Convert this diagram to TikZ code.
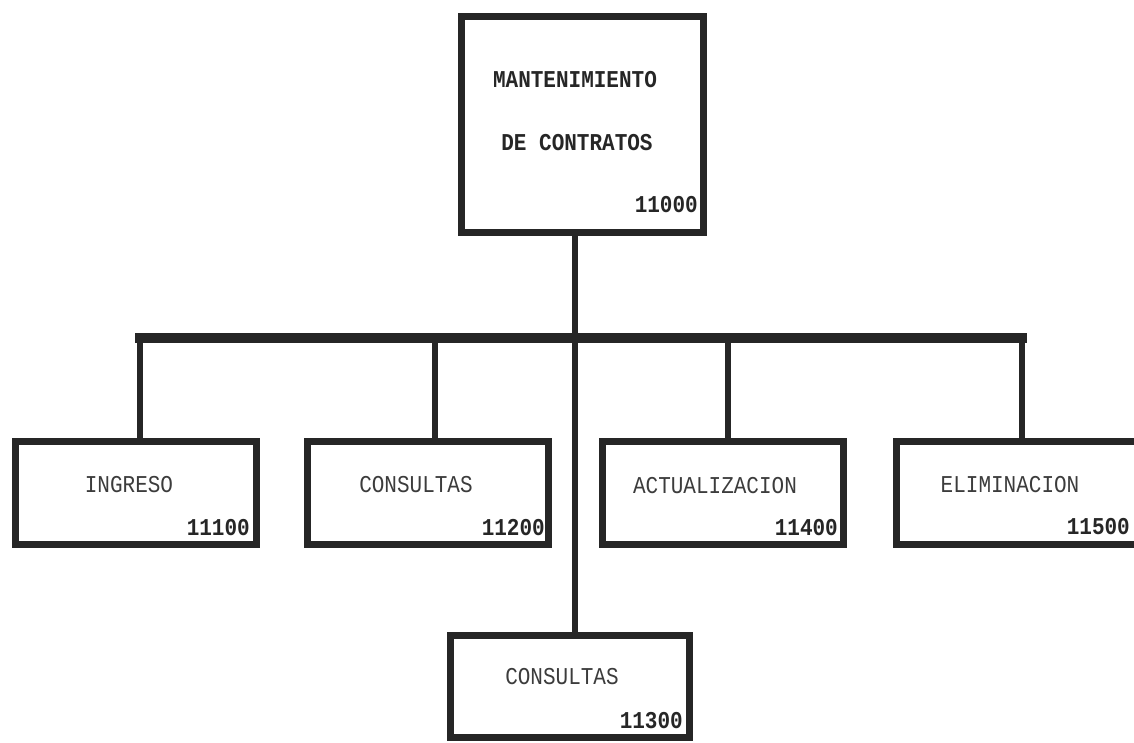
\documentclass[tikz,border=0pt]{standalone}
\usepackage{fontspec}
\setmonofont{Liberation Mono}
\usetikzlibrary{calc}
\definecolor{ink}{HTML}{262626}
\definecolor{txt}{HTML}{3C3C3C}
% printer-style lettering: monospace, a little taller than wide
\newcommand{\tall}[1]{\scalebox{1}[1.15]{#1}}
\tikzset{
  box/.style={draw=ink, line width=7pt, rectangle, inner sep=0pt, fill=white},
  lbl/.style={inner sep=0pt, text=txt, font=\ttfamily\fontsize{21}{21}\selectfont},
  ttl/.style={inner sep=0pt, text=ink, font=\ttfamily\bfseries\fontsize{21}{21}\selectfont},
  num/.style={inner sep=0pt, anchor=east, text=ink, font=\ttfamily\bfseries\fontsize{21}{21}\selectfont},
  link/.style={draw=ink, line width=5.5pt},
  barline/.style={draw=ink, line width=10pt, line cap=rect},
}
\begin{document}
\begin{tikzpicture}[x=1pt, y=-1pt]
\useasboundingbox[fill=white] (0,0) rectangle (1134,743);

% boxes
\node[box, minimum width=242pt, minimum height=216pt] (top) at (582.5,124.5) {};
\node[box, minimum width=241pt, minimum height=103pt] (b1) at (136,493) {};
\node[box, minimum width=241pt, minimum height=103pt] (b2) at (428,493) {};
\node[box, minimum width=241pt, minimum height=103pt] (b4) at (722.5,493) {};
\node[box, minimum width=241pt, minimum height=103pt] (b5) at (1017,493) {};
\node[box, minimum width=239pt, minimum height=102pt] (b3) at (570,686.5) {};

% spine and bar
\coordinate (spine) at (575,338);
\draw[barline] ([xshift=4pt]b1.north |- spine) -- ([xshift=5pt]b5.north |- spine);
\draw[link] (top.south -| spine) -- (b3.north -| spine);
\draw[link] ([xshift=4pt]b1.north) -- ([xshift=4pt]b1.north |- spine);
\draw[link] ([xshift=7pt]b2.north) -- ([xshift=7pt]b2.north |- spine);
\draw[link] ([xshift=5.5pt]b4.north) -- ([xshift=5.5pt]b4.north |- spine);
\draw[link] ([xshift=5pt]b5.north) -- ([xshift=5pt]b5.north |- spine);

% texts
\node[ttl] (t1) at (575,80) {\tall{MANTENIMIENTO}};
\node[ttl] (t2) at (577,143) {\tall{DE CONTRATOS}};
\node[num] (n0) at (698,205) {\tall{11000}};

\node[lbl] (l1) at (129,485) {\tall{INGRESO}};
\node[num] (n1) at (250,528) {\tall{11100}};

\node[lbl] (l2) at (416,485) {\tall{CONSULTAS}};
\node[num] (n2) at (545,528) {\tall{11200}};

\node[lbl] (l4) at (715,486) {\tall{ACTUALIZACION}};
\node[num] (n4) at (838,528) {\tall{11400}};

\node[lbl] (l5) at (1010,485) {\tall{ELIMINACION}};
\node[num] (n5) at (1130,527) {\tall{11500}};

\node[lbl] (l3) at (562,677) {\tall{CONSULTAS}};
\node[num] (n3) at (683,721) {\tall{11300}};
\end{tikzpicture}
\end{document}
